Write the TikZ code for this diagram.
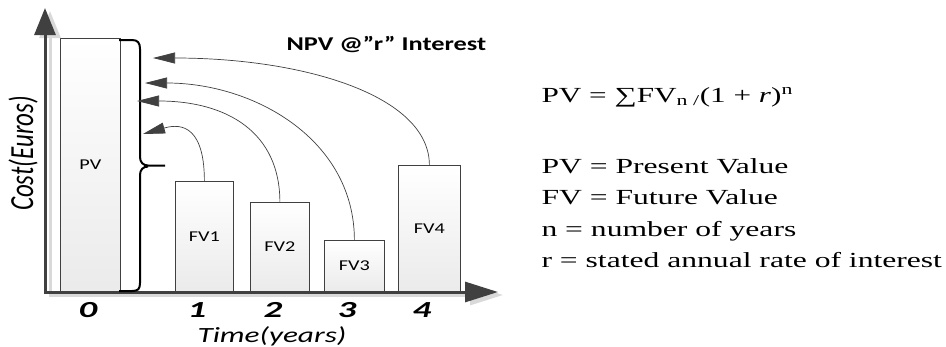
\documentclass[tikz,border=0pt]{standalone}
\usepackage{fontspec}
\usepackage{graphicx}
\setmainfont{Liberation Serif}
\newfontfamily\carl{Carlito}
\usetikzlibrary{arrows.meta}
\definecolor{axisgray}{HTML}{404040}
\definecolor{shadowgray}{HTML}{D9D9D9}
\newcommand{\hsx}[2]{\scalebox{#1}[1]{#2}}
\begin{document}
\begin{tikzpicture}[x=1pt,y=-1pt,
  bar/.style={draw=axisgray, line width=0.8pt, top color=white, bottom color=black!8,
    inner sep=0pt, anchor=south west, font=\carl\fontsize{15}{18}\selectfont},
  axisline/.style={line width=3pt, draw=axisgray, line join=miter},
  shadowline/.style={line width=3pt, draw=shadowgray, line join=miter},
  conn/.style={draw=axisgray, line width=0.7pt, -{Triangle[length=22pt,width=11pt]}},
  bracestyle/.style={draw=black, line width=2pt, line join=round},
  digit/.style={font=\carl\bfseries\itshape\fontsize{23}{26}\selectfont, anchor=base},
  serif/.style={anchor=base west, font=\fontsize{21.5}{26}\selectfont}]
\useasboundingbox (0,0) rectangle (946,346);

% bars
\node[bar, minimum width=60pt, minimum height=253pt] (pv) at (60,292) {\hsx{1.35}{PV}};
\node[bar, minimum width=58pt, minimum height=110pt] (fv1) at (175,292) {\hsx{1.35}{FV1}};
\node[bar, minimum width=59pt, minimum height=89pt] (fv2) at (250,292) {\hsx{1.35}{FV2}};
\node[bar, minimum width=60pt, minimum height=51pt] (fv3) at (324,292) {\hsx{1.35}{FV3}};
\node[bar, minimum width=62pt, minimum height=126pt] (fv4) at (398,292) {\hsx{1.35}{FV4}};

% axes
\coordinate (o) at (45,292);
\coordinate (ytip) at (45,8);
\coordinate (xtip) at (498,292);
\draw[shadowline, {Triangle[length=27pt,width=21pt]}-{Triangle[length=33pt,width=20pt]}]
  ([xshift=5pt,yshift=-3pt]ytip) -- ([xshift=5pt,yshift=-3pt]o) -- ([xshift=5pt,yshift=-3pt]xtip);
\draw[axisline, {Triangle[length=27pt,width=21pt]}-{Triangle[length=33pt,width=20pt]}]
  (ytip) -- (o) -- (xtip);

% brace
\draw[bracestyle] (119,40) -- (132,40) .. controls (138,40) and (140,43) .. (140,49)
  -- (140,157) .. controls (140,162) and (143,165.5) .. (148,165.5) -- (165,165.5);
\draw[bracestyle] (148,166.5) .. controls (143,166.5) and (140,170) .. (140,175)
  -- (140,283) .. controls (140,289) and (138,291) .. (132,291) -- (119,291);

% connectors
\coordinate (t1) at (143,134);
\coordinate (t2) at (137,101);
\coordinate (t3) at (145,83);
\coordinate (t4) at (153,58);
\draw[conn] (fv1.north) .. controls +(0,-62) and +(32,-9) .. (t1);
\draw[conn] (fv2.north) .. controls +(0,-70) and +(90,0) .. (t2);
\draw[conn] (fv3.north) .. controls +(0,-100) and +(110,0) .. (t3);
\draw[conn] (fv4.north) .. controls +(0,-70) and +(150,0) .. (t4);

% labels
\node[anchor=base west, font=\carl\bfseries\fontsize{19.5}{22}\selectfont] (npv) at (283,50)
  {\hsx{1.35}{NPV @”r” Interest}};
\node[rotate=90, font=\carl\itshape\fontsize{25}{28}\selectfont] (cost) at (23,153.5)
  {\scalebox{1}[1.35]{Cost(Euros)}};
\node[anchor=base, font=\carl\itshape\fontsize{21.7}{25}\selectfont] (time) at (272,342)
  {\hsx{1.44}{Time(years)}};
\node[digit] (d0) at (88,317) {\hsx{1.6}{0}};
\node[digit] (d1) at (197,317) {\hsx{1.6}{1}};
\node[digit] (d2) at (273,317) {\hsx{1.6}{2}};
\node[digit] (d3) at (347,317) {\hsx{1.6}{3}};
\node[digit] (d4) at (422,317) {\hsx{1.6}{4}};

% formula and definitions
\node[serif] (eq) at (538,102)
  {\hsx{1.45}{PV = ∑FV\textsubscript{n /}(1 + \textit{r})\textsuperscript{n}}};
\node[serif] (l1) at (538,173) {\hsx{1.47}{PV = Present Value}};
\node[serif] (l2) at (538,204.5) {\hsx{1.47}{FV = Future Value}};
\node[serif] (l3) at (538,236) {\hsx{1.47}{n = number of years}};
\node[serif] (l4) at (538,267.5) {\hsx{1.47}{r = stated annual rate of interest}};
\end{tikzpicture}
\end{document}
